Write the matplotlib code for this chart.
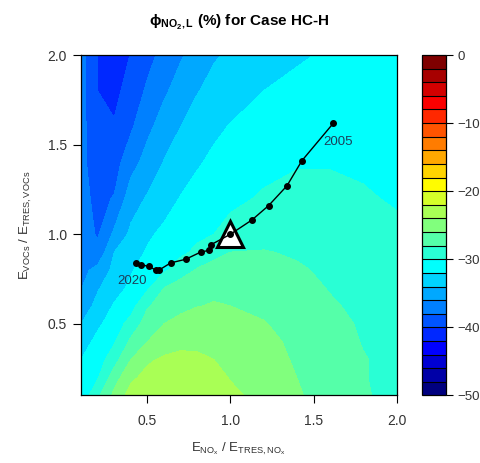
import numpy as np
import matplotlib
matplotlib.use("Agg")
import matplotlib.pyplot as plt
from matplotlib.colors import LinearSegmentedColormap, ListedColormap, BoundaryNorm

plt.rcParams['font.family'] = ['Liberation Sans', 'DejaVu Sans']
plt.rcParams['mathtext.fontset'] = 'custom'
plt.rcParams['mathtext.rm'] = 'Liberation Sans'
plt.rcParams['mathtext.it'] = 'Liberation Sans:italic'
plt.rcParams['mathtext.bf'] = 'Liberation Sans:bold'
plt.rcParams['mathtext.default'] = 'regular'

# grid of emission ratios
e_nox = [0.1, 0.2, 0.3, 0.4, 0.5, 0.6, 0.7, 0.8, 0.9, 1.0, 1.2, 1.4, 1.6, 1.8, 2.0]
e_voc = [0.1, 0.2, 0.3, 0.4, 0.5, 0.6, 0.7, 0.8, 0.9, 1.0, 1.2, 1.4, 1.6, 1.8, 2.0]

# phi NO2,L (%) on the grid, one row per VOC ratio (bottom to top)
phi = [
    [-31.5, -28.4, -25.5, -23.2, -22.9, -22.6, -22.5, -22.6, -23.0, -23.6, -24.6, -25.8, -26.8, -27.8, -28.6],
    [-31.7, -30.2, -26.9, -24.4, -23.4, -23.0, -22.9, -23.0, -23.4, -24.1, -25.0, -26.0, -26.9, -27.9, -28.6],
    [-32.0, -31.0, -28.8, -26.0, -24.3, -23.7, -23.5, -23.6, -24.0, -24.5, -25.3, -26.2, -27.0, -27.9, -28.5],
    [-33.0, -31.4, -30.2, -27.6, -26.0, -25.0, -24.5, -24.5, -24.7, -24.9, -25.5, -26.4, -27.2, -28.1, -28.6],
    [-34.0, -32.4, -31.0, -29.3, -27.0, -26.0, -25.4, -25.2, -25.2, -25.3, -25.9, -26.7, -27.5, -28.2, -28.7],
    [-35.2, -33.4, -31.8, -30.8, -28.2, -27.2, -26.5, -26.05, -25.9, -26.0, -26.4, -27.1, -27.8, -28.4, -28.9],
    [-36.1, -34.2, -32.8, -31.6, -30.3, -28.0, -27.0, -26.5, -26.3, -26.4, -26.7, -27.4, -28.1, -28.6, -29.0],
    [-36.6, -35.4, -33.5, -32.2, -31.0, -30.3, -29.0, -27.8, -27.2, -26.9, -27.0, -27.8, -28.3, -28.7, -29.1],
    [-36.8, -37.5, -34.0, -32.9, -31.8, -31.0, -30.4, -29.6, -28.7, -28.0, -27.9, -28.2, -28.6, -29.0, -29.4],
    [-37.0, -38.2, -35.6, -33.6, -32.3, -31.6, -31.0, -30.4, -30.0, -29.4, -28.7, -28.8, -28.9, -29.2, -29.6],
    [-37.5, -38.4, -37.9, -34.9, -33.8, -32.8, -31.9, -31.3, -30.8, -30.4, -29.8, -29.6, -29.6, -29.8, -30.2],
    [-37.4, -39.2, -38.8, -36.8, -35.2, -33.9, -33.0, -32.2, -31.6, -31.1, -30.5, -30.1, -30.1, -30.3, -30.6],
    [-37.3, -39.6, -39.8, -38.3, -36.5, -35.1, -34.0, -33.1, -32.4, -31.9, -31.1, -30.6, -30.3, -30.3, -30.5],
    [-37.2, -40.0, -40.6, -39.1, -37.7, -36.3, -35.2, -34.1, -33.4, -32.9, -32.0, -31.4, -31.0, -30.8, -30.8],
    [-37.2, -40.1, -41.5, -39.9, -38.6, -37.4, -36.2, -35.2, -34.2, -33.7, -33.0, -32.3, -31.7, -31.3, -31.0],
]

# yearly emission trajectory, 2005 -> 2020
traj_x = [1.62, 1.43, 1.34, 1.23, 1.13, 1.00, 0.88, 0.87, 0.82, 0.73, 0.64, 0.57, 0.55, 0.51, 0.46, 0.43]
traj_y = [1.62, 1.41, 1.27, 1.16, 1.08, 1.00, 0.94, 0.91, 0.90, 0.86, 0.84, 0.80, 0.80, 0.82, 0.83, 0.84]

levels = np.arange(-50, 1, 2)
cbar_ticks = [0, -10, -20, -30, -40, -50]

# jet palette, 25 steps
jet_anchors = ["#00007F", "blue", "#007FFF", "cyan", "#7FFF7F", "yellow", "#FF7F00", "red", "#7F0000"]
ramp = LinearSegmentedColormap.from_list("jet25", jet_anchors)
cmap = ListedColormap(ramp(np.linspace(0, 1, len(levels) - 1)))
norm = BoundaryNorm(levels, cmap.N)

fig = plt.figure(figsize=(4.81, 4.63), dpi=100)
ax = fig.add_axes([0.1684, 0.1458, 0.656, 0.7354])
cax = fig.add_axes([0.8763, 0.1458, 0.0509, 0.7354])

cf = ax.contourf(e_nox, e_voc, np.array(phi), levels=levels, cmap=cmap, norm=norm,
                 antialiased=False)

# reference point and trajectory
ax.plot([1.0], [1.0], marker='^', ms=19, mfc='white', mec='black', mew=2.2,
        ls='none', zorder=3)
ax.plot(traj_x, traj_y, color='black', lw=1.0, marker='o', ms=4, zorder=4)
ax.text(1.645, 1.515, '2005', ha='center', va='center', fontsize=9.5, color='#1c3f5a', zorder=5)
ax.text(0.41, 0.737, '2020', ha='center', va='center', fontsize=9.5, color='#1c3f5a', zorder=5)

ax.set_xlim(0.1, 2.0)
ax.set_ylim(0.1, 2.0)
ax.set_xticks([0.5, 1.0, 1.5, 2.0])
ax.set_yticks([0.5, 1.0, 1.5, 2.0])
ax.tick_params(direction='out', length=6, width=0.8, labelsize=10, labelcolor='#333333', pad=7)
ax.tick_params(axis='y', pad=4)
for sp in ax.spines.values():
    sp.set_linewidth(0.9)

ax.set_xlabel(r'E$_{NO_x}$ / E$_{TRES,NO_x}$', fontsize=9.5, color='#333333', labelpad=9)
ax.set_ylabel(r'E$_{VOCs}$ / E$_{TRES,VOCs}$', fontsize=9.5, color='#333333', labelpad=10)
ax.set_title(r'$\phi_{\mathbf{NO_2,L}}$ (%) for Case HC-H', fontsize=11,
             fontweight='bold', pad=22)

cb = fig.colorbar(cf, cax=cax, ticks=cbar_ticks, drawedges=True)
cb.dividers.set_color('black')
cb.dividers.set_linewidth(0.8)
cb.outline.set_linewidth(0.9)
cax.minorticks_off()
cax.tick_params(direction='out', length=5, width=0.8, labelsize=9.5, labelcolor='#333333')

fig.savefig("out.png", dpi=100)
